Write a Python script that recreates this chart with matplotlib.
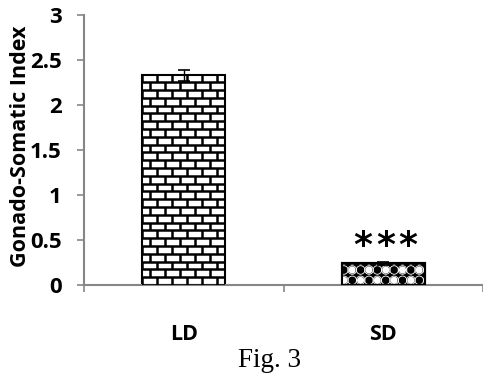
import numpy as np
import matplotlib
matplotlib.use("Agg")
import matplotlib.pyplot as plt
from matplotlib.patches import Rectangle

categories = ["LD", "SD"]
values = [2.33, 0.24]
errors = [0.06, 0.02]
signif = [0, 3]   # number of stars
yticks = [0, 0.5, 1, 1.5, 2, 2.5, 3]

W, H = 483, 374
fig = plt.figure(figsize=(W / 100, H / 100), dpi=100)
ax = fig.add_axes([84 / W, 1 - 285 / H, (W - 84) / W, 270 / H])

grey = "#868686"
xpos = np.arange(len(categories)) + 0.5
bw = 0.415

bars = ax.bar(xpos, values, width=bw, color="white", edgecolor="black",
              linewidth=1.5, zorder=2)
ax.errorbar(xpos, values, yerr=errors, fmt="none", ecolor="black",
            elinewidth=1, capsize=4, capthick=1.2, zorder=5)

# brick pattern for LD
b = bars[0]
x0, y0 = b.get_x(), b.get_y()
x1, y1 = x0 + b.get_width(), y0 + b.get_height()
rowh = 0.0867
brickw = 0.075
ys = np.arange(y0, y1, rowh)
ax.hlines(ys, x0, x1, color="black", lw=1.8, zorder=3, clip_path=b)
for i, yy in enumerate(ys):
    off = 0 if i % 2 == 0 else brickw / 2
    xs = np.arange(x0 + off, x1, brickw)
    ax.vlines(xs, yy, min(yy + rowh, y1), color="black", lw=1.8, zorder=3,
              clip_path=b)

# circle pattern for SD
s = bars[1]
s.set_facecolor("black")
sx0, sy0 = s.get_x(), s.get_y()
sx1, sy1 = sx0 + s.get_width(), sy0 + s.get_height()
dx = 0.042
dy = 0.115
cx, cy, cf = [], [], []
for j, yy in enumerate(np.arange(sy0 + dy * 0.45, sy1 + dy, dy)):
    for k, xx in enumerate(np.arange(sx0 + 0.01, sx1 + dx, dx)):
        cx.append(xx)
        cy.append(yy)
        cf.append("white" if (j + k) % 2 == 0 else "black")
sc = ax.scatter(cx, cy, s=38, c=cf, edgecolors="black", linewidths=1.0,
                zorder=3)
sc.set_clip_path(s)
sc2 = ax.scatter(cx, cy, s=38, facecolors="none", edgecolors="white",
                 linewidths=0.6, zorder=3)
sc2.set_clip_path(s)
ax.add_patch(Rectangle((sx0, sy0), sx1 - sx0, sy1 - sy0, fill=False,
                       edgecolor="black", lw=1.5, zorder=4))

ax.set_xlim(0, (W - 84) / 200)
ax.set_ylim(0, 3)
ax.set_yticks(yticks)
ax.set_yticklabels([f"{t:g}" for t in yticks], fontfamily="Open Sans",
                   fontweight="bold", fontsize=16)
ax.set_xticks([0, 1, 2])
ax.set_xticklabels([])
ax.tick_params(axis="both", colors=grey, length=5, width=1.2,
               labelcolor="black")
ax.tick_params(axis="y", pad=11)
for sp in ["top", "right"]:
    ax.spines[sp].set_visible(False)
for sp in ["left", "bottom"]:
    ax.spines[sp].set_color(grey)
    ax.spines[sp].set_linewidth(1.5)

fig.text(21 / W, 1 - 146 / H, "Gonado-Somatic Index", rotation=90,
         ha="center", va="center", fontfamily="Open Sans",
         fontweight="bold", fontsize=15.5)

for xp, c, v, e, n in zip(xpos, categories, values, errors, signif):
    ax.text(xp, -55 / 90, c, ha="center", va="baseline",
            fontfamily="Open Sans", fontweight="bold", fontsize=15.5)
    for k in range(n):
        ax.text(xp + 0.01 + (k - (n - 1) / 2) * 0.112, v + e - 0.02, "*",
                ha="center", va="bottom", fontfamily="DejaVu Sans",
                fontweight="bold", fontsize=26)

fig.text(270 / W, 1 - 367 / H, "Fig. 3", ha="center", va="baseline",
         fontfamily="Liberation Serif", fontsize=19.5)

fig.savefig("out.png", dpi=100)
